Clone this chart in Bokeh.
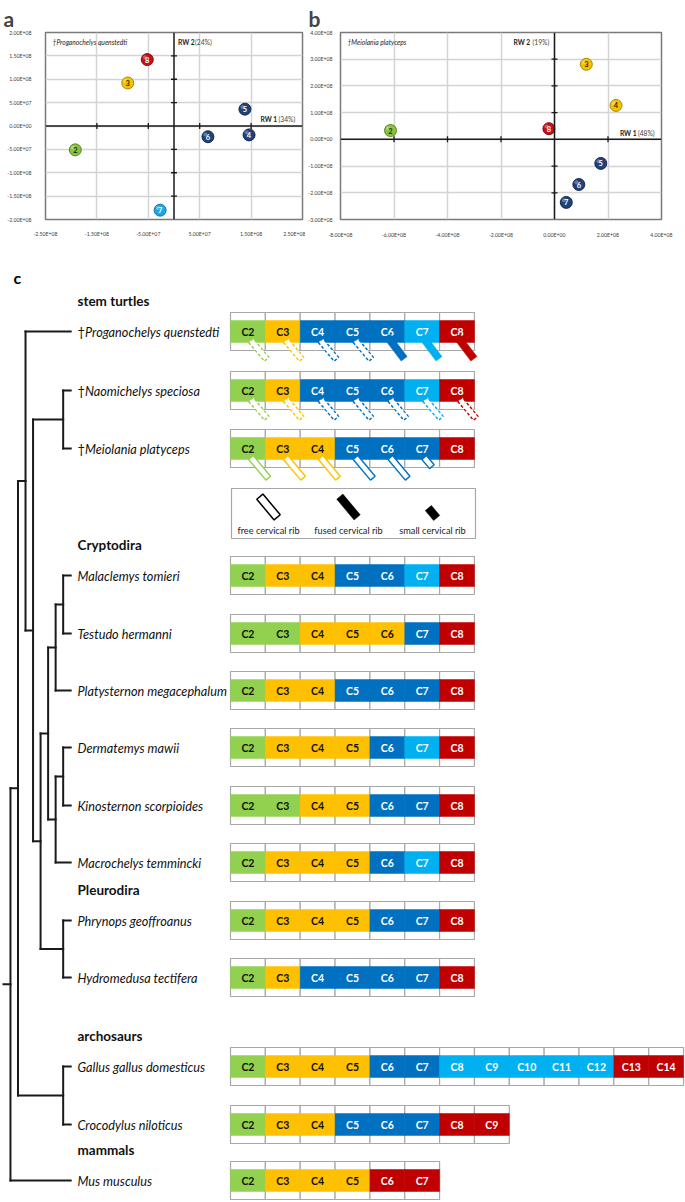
import math
from bokeh.plotting import figure
from bokeh.layouts import column, row
from bokeh.models import Range1d, FixedTicker, CustomJSTickFormatter, Span
from bokeh.core.properties import value
from bokeh.embed import file_html
from bokeh.resources import INLINE

FONT = "Lato"

# ---------------- data: panel a (Proganochelys quenstedti) ----------------
a_title = "a"
a_species = "\u2020Proganochelys quenstedti"
a_vertebrae = ["2", "3", "4", "5", "6", "7", "8"]
a_regions = "GYBBBLR"
a_rw1 = [-1.92e8, -0.90e8, 1.46e8, 1.38e8, 0.66e8, -0.27e8, -0.52e8]
a_rw2 = [-0.51e8, 0.92e8, -0.19e8, 0.36e8, -0.23e8, -1.80e8, 1.42e8]
a_rw1_pct = "(34%)"
a_rw2_pct = "(24%)"
a_xrange = (-2.5e8, 2.5e8)
a_yrange = (-2.0e8, 2.0e8)
a_xticks = [-2.5e8, -1.5e8, -5e7, 5e7, 1.5e8, 2.5e8]
a_yticks = [-2e8, -1.5e8, -1e8, -5e7, 0, 5e7, 1e8, 1.5e8, 2e8]

# ---------------- data: panel b (Meiolania platyceps) ----------------
b_title = "b"
b_species = "\u2020Meiolania platyceps"
b_vertebrae = ["2", "3", "4", "5", "6", "7", "8"]
b_regions = "GYYBBBR"
b_rw1 = [-6.13e8, 1.19e8, 2.30e8, 1.73e8, 0.91e8, 0.44e8, -0.21e8]
b_rw2 = [0.33e8, 2.81e8, 1.27e8, -0.90e8, -1.69e8, -2.36e8, 0.40e8]
b_rw1_pct = "(48%)"
b_rw2_pct = "(19%)"
b_xrange = (-8e8, 4e8)
b_yrange = (-3e8, 4e8)
b_xticks = [-8e8, -6e8, -4e8, -2e8, 0, 2e8, 4e8]
b_yticks = [-3e8, -2e8, -1e8, 0, 1e8, 2e8, 3e8, 4e8]

# ---------------- data: panel c ----------------
species = ["Proganochelys quenstedti", "Naomichelys speciosa", "Meiolania platyceps",
           "Malaclemys tomieri", "Testudo hermanni", "Platysternon megacephalum",
           "Dermatemys mawii", "Kinosternon scorpioides", "Macrochelys temmincki",
           "Phrynops geoffroanus", "Hydromedusa tectifera",
           "Gallus gallus domesticus", "Crocodylus niloticus", "Mus musculus"]
extinct = [True, True, True, False, False, False, False, False, False, False, False,
           False, False, False]
regions = ["GYBBBLR", "GYBBBLR", "GYYBBBR", "GYYBBLR", "GGYYYBR", "GYYBBBR",
           "GYYYBLR", "GGYYBBR", "GYYYBLR", "GYYYBBR", "GYBBBBR",
           "GYYYBBLLLLLRR", "GYYBBBRR", "GYYYRR"]
first_vertebra = 2
pro_ribs = ["free?", "free?", "free?", "free?", "fused", "fused", "fused"]
nao_ribs = ["free?", "free?", "free?", "free?", "free?", "free?", "free?"]
mei_ribs = ["free", "free", "free", "free", "free", "small", None]
groups = ["stem turtles", "Cryptodira", "Pleurodira", "archosaurs", "mammals"]
group_first = [0, 3, 9, 11, 13]
legend_labels = ["free cervical rib", "fused cervical rib", "small cervical rib"]
legend_kinds = ["free", "fused", "small"]
# topology (indices into species)
cryptodira = (((3, 4), 5), ((6, 7), 8))
pleurodira = (9, 10)
crown = (cryptodira, pleurodira)
stem = ((1, 2), crown)
turtles = (0, stem)
archosaurs = (11, 12)
tree = ((turtles, archosaurs), 13)

# ---------------- styles / layout ----------------
CELL = {"G": "#92D050", "Y": "#FFC000", "B": "#0070C0", "L": "#00B0F0", "R": "#C00000"}
CELL_TXT = {"G": "#111111", "Y": "#111111", "B": "white", "L": "white", "R": "white"}
BALL = {"G": "#88c43f", "Y": "#f4c300", "B": "#1f4279", "L": "#1fa8e0", "R": "#c3121c"}
BALL_EDGE = {"G": "#4d7a1c", "Y": "#a17f00", "B": "#0c2046", "L": "#0d6b98", "R": "#7a0008"}
BALL_TXT = {"G": "#1d3306", "Y": "#3a2c00", "B": "white", "L": "white", "R": "white"}

W_TOTAL = 685
TOP_H = 240
PA_W = 305
PB_W = W_TOTAL - PA_W
PC_H = 1202 - TOP_H
BORDER_TOP = 32
BORDER_BOT = 10

row_y = [331, 390, 448, 575, 633, 690, 747, 805, 862, 920, 977, 1066, 1124, 1180]
CELL_X0 = 230.0
CELL_W = 34.85
BOX_HALF = 19
BAND_HALF = 11
TIP_X = 70.2
NODE_STEP = 7.53
LABEL_X = 77

fmt = CustomJSTickFormatter(code=r"""
let s = tick.toExponential(2).toUpperCase();
return s.replace(/E([+-])(\d)$/, (m, a, b) => "E" + a + "0" + b);
""")


def make_panel(title, width, bl, br, xr, yr, xticks, yticks, xs, ys, codes, labels,
               sp_label, rw1_pct, rw2_pct, rw2_left, ystand, xstand, toff):
    p = figure(width=width, height=TOP_H, x_range=Range1d(*xr), y_range=Range1d(*yr),
               output_backend="svg", toolbar_location=None, title=title,
               min_border_left=bl, min_border_right=br, min_border_top=BORDER_TOP,
               min_border_bottom=BORDER_BOT)
    p.title.text_font = FONT
    p.title.text_font_size = "21px"
    p.title.text_font_style = "bold"
    p.title.offset = toff
    p.title.standoff = 4
    p.outline_line_color = "#7a7a7a"
    p.outline_line_width = 1.5
    p.xaxis.ticker = FixedTicker(ticks=xticks)
    p.yaxis.ticker = FixedTicker(ticks=yticks)
    for ax in (p.xaxis[0], p.yaxis[0]):
        ax.formatter = fmt
        ax.axis_line_color = None
        ax.major_tick_line_color = None
        ax.minor_tick_line_color = None
        ax.major_label_text_font = FONT
        ax.major_label_text_font_size = "5.2px"
        ax.major_label_text_color = "#404040"
    p.yaxis.major_label_standoff = ystand
    p.xaxis.major_label_standoff = xstand
    p.grid.grid_line_color = "#d4d4d4"
    p.grid.grid_line_width = 1.5

    fw = width - bl - br
    fh = TOP_H - BORDER_TOP - BORDER_BOT
    ux = (xr[1] - xr[0]) / fw
    uy = (yr[1] - yr[0]) / fh

    p.add_layout(Span(location=0, dimension="width", line_color="#1a1a1a", line_width=1.5))
    p.add_layout(Span(location=0, dimension="height", line_color="#1a1a1a", line_width=1.5))
    mx = [t for t in xticks if t not in (0, xr[0], xr[1])]
    my = [t for t in yticks if t not in (0, yr[0], yr[1])]
    p.scatter(mx, [0] * len(mx), marker="dash", angle=math.pi / 2, size=6,
              line_color="#1a1a1a", line_width=1.3)
    p.scatter([0] * len(my), my, marker="dash", size=6, line_color="#1a1a1a", line_width=1.3)

    p.scatter(xs, ys, size=12, fill_color=[BALL[c] for c in codes],
              line_color=[BALL_EDGE[c] for c in codes], line_width=0.9)
    p.scatter([x - 2.4 * ux for x in xs], [y + 2.4 * uy for y in ys], size=4,
              fill_color="white", fill_alpha=0.3, line_color=None)
    p.text(xs, ys, text=labels, text_color=[BALL_TXT[c] for c in codes],
           text_font=value(FONT), text_font_size="7.5px", text_font_style="bold",
           text_align="center", text_baseline="middle")

    top = yr[1] - 10.5 * uy
    p.text([xr[0] + 7 * ux], [top], text=[sp_label], text_font=value(FONT),
           text_font_size="6.7px", text_font_style="italic", text_color="#222222",
           text_baseline="middle")
    if rw2_left:
        p.text([0], [top], text=["RW 2"], x_offset=-41, text_font=value(FONT),
               text_font_size="6.7px", text_font_style="bold", text_color="#222222",
               text_baseline="middle")
        p.text([0], [top], text=[rw2_pct], x_offset=-22, text_font=value(FONT),
               text_font_size="6.7px", text_color="#444444", text_baseline="middle")
    else:
        p.text([0], [top], text=["RW 2"], x_offset=4, text_font=value(FONT),
               text_font_size="6.7px", text_font_style="bold", text_color="#222222",
               text_baseline="middle")
        p.text([0], [top], text=[rw2_pct], x_offset=21, text_font=value(FONT),
               text_font_size="6.7px", text_color="#444444", text_baseline="middle")
    p.text([xr[1] - 42 * ux], [7 * uy], text=["RW 1"], text_font=value(FONT),
           text_font_size="6.7px", text_font_style="bold", text_color="#222222",
           text_baseline="middle")
    p.text([xr[1] - 42 * ux], [7 * uy], text=[rw1_pct], x_offset=18, text_font=value(FONT),
           text_font_size="6.7px", text_color="#444444", text_baseline="middle")
    return p


pa = make_panel(a_title, PA_W, 45, 3, a_xrange, a_yrange, a_xticks, a_yticks, a_rw1, a_rw2,
                a_regions, a_vertebrae, a_species, a_rw1_pct, a_rw2_pct, False, 8, 5, -42)
pb = make_panel(b_title, PB_W, 32, 24, b_xrange, b_yrange, b_xticks, b_yticks, b_rw1, b_rw2,
                b_regions, b_vertebrae, b_species, b_rw1_pct, b_rw2_pct, True, 2, 6, -32)

# ---------------- panel c ----------------
pc = figure(width=W_TOTAL, height=PC_H, x_range=Range1d(0, 685), y_range=Range1d(1202, 240),
            x_axis_location=None, y_axis_location=None, min_border=0,
            output_backend="svg", toolbar_location=None)
pc.outline_line_color = None
for g in pc.grid:
    g.visible = False

pc.text([13], [277], text=["c"], text_font=value(FONT), text_font_size="16px",
        text_font_style="bold", text_baseline="middle")

# tree
hx0, hx1, hy = [], [], []
vx, vy0, vy1 = [], [], []


def lay(node):
    if isinstance(node, int):
        return row_y[node], 0, TIP_X
    kids = [lay(c) for c in node]
    h = 1 + max(k[1] for k in kids)
    x = TIP_X - NODE_STEP * h
    for cy, ch, cx in kids:
        hx0.append(x); hx1.append(cx); hy.append(cy)
    ys = [k[0] for k in kids]
    vx.append(x); vy0.append(min(ys)); vy1.append(max(ys))
    return sum(ys) / len(ys), h, x


root_y, root_h, root_x = lay(tree)
hx0.append(3); hx1.append(root_x); hy.append(root_y)
pc.segment(hx0, hy, hx1, hy, line_color="#1a1a1a", line_width=2, line_cap="square")
pc.segment(vx, vy0, vx, vy1, line_color="#1a1a1a", line_width=2, line_cap="square")

# group headers
pc.text([LABEL_X] * len(groups), [row_y[i] - 31 for i in group_first], text=groups,
        text_font=value(FONT), text_font_size="13.5px", text_font_style="bold",
        text_color="#111111", text_baseline="middle")
# species labels (dagger upright for extinct taxa)
dag_y = [y for y, e in zip(row_y, extinct) if e]
pc.text([LABEL_X] * len(dag_y), dag_y, text=["\u2020"] * len(dag_y),
        text_font=value(FONT), text_font_size="13px", text_color="#111111",
        text_baseline="middle")
pc.text([LABEL_X + (7.5 if e else 0) for e in extinct], row_y, text=species,
        text_font=value(FONT), text_font_size="12.7px", text_font_style="italic",
        text_color="#111111", text_baseline="middle")

# vertebral cells
bl_, br_, bc_ = [], [], []
tx, ty, tt, tc = [], [], [], []
for i, codes in enumerate(regions):
    y = row_y[i]
    for k, c in enumerate(codes):
        x0 = CELL_X0 + k * CELL_W
        bl_.append(x0); br_.append(x0 + CELL_W); bc_.append(CELL[c])
        tx.append(x0 + CELL_W / 2); ty.append(y); tt.append("C%d" % (first_vertebra + k))
        tc.append(CELL_TXT[c])
yt = [row_y[i] - BOX_HALF for i, cs in enumerate(regions) for _ in cs]
yb = [row_y[i] + BOX_HALF for i, cs in enumerate(regions) for _ in cs]
pc.quad(left=bl_, right=br_, top=yt, bottom=yb, fill_color="white", line_color="#a8a8a8",
        line_width=1.2)
bt2 = [row_y[i] - BAND_HALF for i, cs in enumerate(regions) for _ in cs]
bb2 = [row_y[i] + BAND_HALF for i, cs in enumerate(regions) for _ in cs]
pc.quad(left=bl_, right=br_, top=bt2, bottom=bb2, fill_color=bc_, line_color=bc_,
        line_width=0.5)
pc.text(tx, ty, text=tt, text_color=tc, text_font=value(FONT), text_font_size="10.5px",
        text_font_style="bold", text_align="center", text_baseline="middle")


def rib_poly(x0, y0, length, width, ang_deg):
    a = math.radians(ang_deg)
    dx, dy = math.cos(a), math.sin(a)
    nx, ny = -dy, dx
    h = width / 2
    x1, y1 = x0 + length * dx, y0 + length * dy
    return ([x0 + h * nx, x1 + h * nx, x1 - h * nx, x0 - h * nx],
            [y0 + h * ny, y1 + h * ny, y1 - h * ny, y0 - h * ny])


groups_r = {"solid": ([], [], []), "dash": ([], [], []), "fill": ([], [], [])}
for i, ribs in enumerate([pro_ribs, nao_ribs, mei_ribs]):
    bb = row_y[i] + BAND_HALF
    for k, r in enumerate(ribs):
        if r is None:
            continue
        cx = CELL_X0 + k * CELL_W + CELL_W / 2
        col = CELL[regions[i][k]]
        if r == "fused":
            xs, ys = rib_poly(cx, bb - 6, 28, 7.5, 53)
            key = "fill"
        elif r == "small":
            xs, ys = rib_poly(cx + 2, bb - 2, 12, 6, 50)
            key = "solid"
        else:
            xs, ys = rib_poly(cx + 3, bb - 2, 27 if r == "free" else 24.5, 6, 50)
            key = "solid" if r == "free" else "dash"
        groups_r[key][0].append(xs); groups_r[key][1].append(ys); groups_r[key][2].append(col)

pc.patches(groups_r["fill"][0], groups_r["fill"][1], fill_color=groups_r["fill"][2],
           line_color=groups_r["fill"][2], line_width=0.5)
pc.patches(groups_r["solid"][0], groups_r["solid"][1], fill_color="white",
           line_color=groups_r["solid"][2], line_width=1.4)
pc.patches(groups_r["dash"][0], groups_r["dash"][1], fill_color="white",
           line_color=groups_r["dash"][2], line_width=1.4, line_dash="3 2")

# legend box
LEG_TOP, LEG_BOT, LEG_L, LEG_R = 488, 538, 231, 475
leg_cx = [268, 348, 432]
pc.quad(left=[LEG_L], right=[LEG_R], top=[LEG_TOP], bottom=[LEG_BOT], fill_color="white",
        line_color="#a8a8a8", line_width=1.2)
lx_o, ly_o, lx_f, ly_f = [], [], [], []
for cx, kind in zip(leg_cx, legend_kinds):
    L = 13 if kind == "small" else 27
    cy = 512.5 if kind == "small" else 506.5
    a = math.radians(50)
    xs, ys = rib_poly(cx - L / 2 * math.cos(a), cy - L / 2 * math.sin(a), L, 8, 50)
    if kind == "free":
        lx_o.append(xs); ly_o.append(ys)
    else:
        lx_f.append(xs); ly_f.append(ys)
pc.patches(lx_f, ly_f, fill_color="black", line_color="black", line_width=0.5)
pc.patches(lx_o, ly_o, fill_color="white", line_color="black", line_width=1.5)
pc.text(leg_cx, [529.5] * 3, text=legend_labels, text_font=value(FONT),
        text_font_size="9.2px", text_color="#222222", text_align="center",
        text_baseline="middle")

layout = column(row(pa, pb), pc)
open("out.html", "w").write(file_html(layout, INLINE))
